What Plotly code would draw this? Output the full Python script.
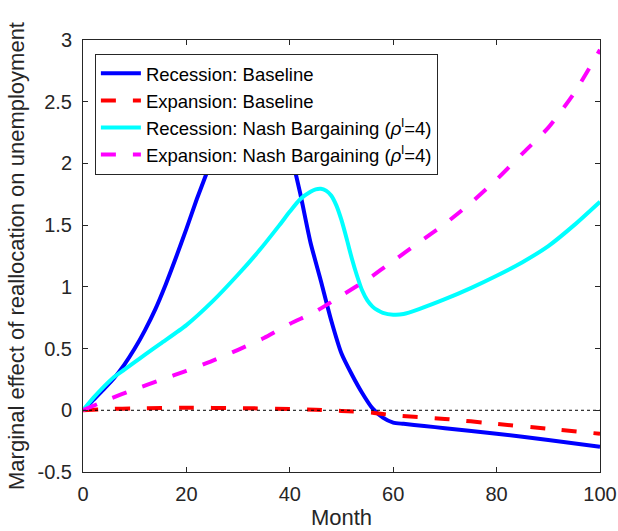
import plotly.graph_objects as go

# Recession, baseline model
rec_base_x = [0, 2, 4, 6, 8, 10, 12, 14, 16, 18, 20, 22, 24, 26, 28, 30, 32, 34, 36, 38,
              40, 42, 44, 46, 48, 50, 52, 54, 56, 58, 60, 62, 66, 70, 80, 90, 100]
rec_base_y = [0, 0.085, 0.17, 0.26, 0.37, 0.50, 0.65, 0.82, 1.02, 1.24, 1.47, 1.71, 1.93,
              2.15, 2.35, 2.52, 2.63, 2.68, 2.62, 2.45, 2.12, 1.76, 1.36, 1.05, 0.73, 0.46,
              0.29, 0.14, 0.015, -0.06, -0.10, -0.11, -0.127, -0.145, -0.19, -0.24, -0.295]

# Expansion, baseline model
exp_base_x = [0, 5, 10, 20, 30, 40, 45, 50, 56, 60, 70, 80, 90, 100]
exp_base_y = [0, 0.01, 0.015, 0.02, 0.018, 0.01, 0.004, -0.005, -0.02, -0.04, -0.07,
              -0.11, -0.15, -0.19]

# Recession, Nash bargaining
rec_nash_x = [0, 2, 4, 6, 8, 10, 12, 15, 20, 25, 30, 34, 38, 40, 42, 44, 45, 46, 47, 48,
              49, 50, 51, 52, 53, 54, 55, 56, 57, 58, 60, 62, 65, 70, 75, 80, 85, 90, 95, 100]
rec_nash_y = [0, 0.10, 0.19, 0.27, 0.33, 0.39, 0.45, 0.54, 0.69, 0.88, 1.10, 1.29, 1.50,
              1.61, 1.71, 1.77, 1.79, 1.795, 1.78, 1.74, 1.66, 1.54, 1.39, 1.23, 1.09, 0.97,
              0.89, 0.84, 0.81, 0.79, 0.775, 0.78, 0.82, 0.90, 0.99, 1.09, 1.20, 1.33, 1.50, 1.69]

# Expansion, Nash bargaining
exp_nash_x = [0, 5, 10, 15, 20, 25, 30, 35, 40, 45, 50, 55, 60, 65, 70, 75, 80, 85, 90, 95, 100]
exp_nash_y = [0, 0.09, 0.17, 0.245, 0.32, 0.40, 0.49, 0.585, 0.70, 0.80, 0.93, 1.06, 1.21,
              1.36, 1.51, 1.68, 1.87, 2.08, 2.29, 2.57, 2.92]

series_names = [
    "Recession: Baseline",
    "Expansion: Baseline",
    "Recession: Nash Bargaining (<i>ρ</i><sup>l</sup>=4)",
    "Expansion: Nash Bargaining (<i>ρ</i><sup>l</sup>=4)",
]

x_ticks = [0, 20, 40, 60, 80, 100]
x_tick_text = ["0", "20", "40", "60", "80", "100"]
y_ticks = [-0.5, 0, 0.5, 1, 1.5, 2, 2.5, 3]
y_tick_text = ["-0.5", "0", "0.5", "1", "1.5", "2", "2.5", "3"]

FONT = "Liberation Sans, Arial, Helvetica, sans-serif"
AXIS_COLOR = "#262626"
DASH = "15px,17px"


def curve(xs, ys, name, color, dash=None):
    return go.Scatter(x=xs, y=ys, mode="lines", name=name,
                      line=dict(color=color, width=4, dash=dash,
                                shape="spline", smoothing=0.6))


fig = go.Figure()
fig.add_trace(curve(rec_base_x, rec_base_y, series_names[0], "#0000FF"))
fig.add_trace(curve(exp_base_x, exp_base_y, series_names[1], "#FF0000", DASH))
fig.add_trace(curve(rec_nash_x, rec_nash_y, series_names[2], "#00FFFF"))
fig.add_trace(curve(exp_nash_x, exp_nash_y, series_names[3], "#FF00FF", DASH))
# dotted zero reference line
fig.add_trace(go.Scatter(x=[0, 100], y=[0, 0], mode="lines", showlegend=False,
                         hoverinfo="skip", line=dict(color="black", width=1, dash="dot")))

axis_common = dict(
    showline=True, linecolor=AXIS_COLOR, linewidth=1, mirror="ticks",
    ticks="inside", ticklen=5, tickcolor=AXIS_COLOR, showgrid=False, zeroline=False,
    tickfont=dict(family=FONT, size=20, color=AXIS_COLOR), automargin=False,
)

fig.update_layout(
    width=618, height=531,
    margin=dict(l=83, r=18, t=40, b=59, autoexpand=False),
    paper_bgcolor="white", plot_bgcolor="white",
    font=dict(family=FONT, color=AXIS_COLOR),
    xaxis=dict(range=[0, 100], tickvals=x_ticks, ticktext=x_tick_text,
               ticklabelstandoff=4,
               title=dict(text="Month", font=dict(family=FONT, size=22, color=AXIS_COLOR),
                          standoff=5),
               **axis_common),
    yaxis=dict(range=[-0.5, 3], tickvals=y_ticks, ticktext=y_tick_text,
               ticklabelstandoff=6,
               title=dict(text="Marginal effect of reallocation on unemployment",
                          font=dict(family=FONT, size=22, color=AXIS_COLOR), standoff=6),
               **axis_common),
    legend=dict(x=0.023, y=0.968, xanchor="left", yanchor="top",
                bgcolor="white", bordercolor=AXIS_COLOR, borderwidth=1,
                font=dict(family=FONT, size=18.5, color="black"),
                tracegroupgap=0, itemwidth=40),
    showlegend=True,
)

fig.write_html("out.html")
